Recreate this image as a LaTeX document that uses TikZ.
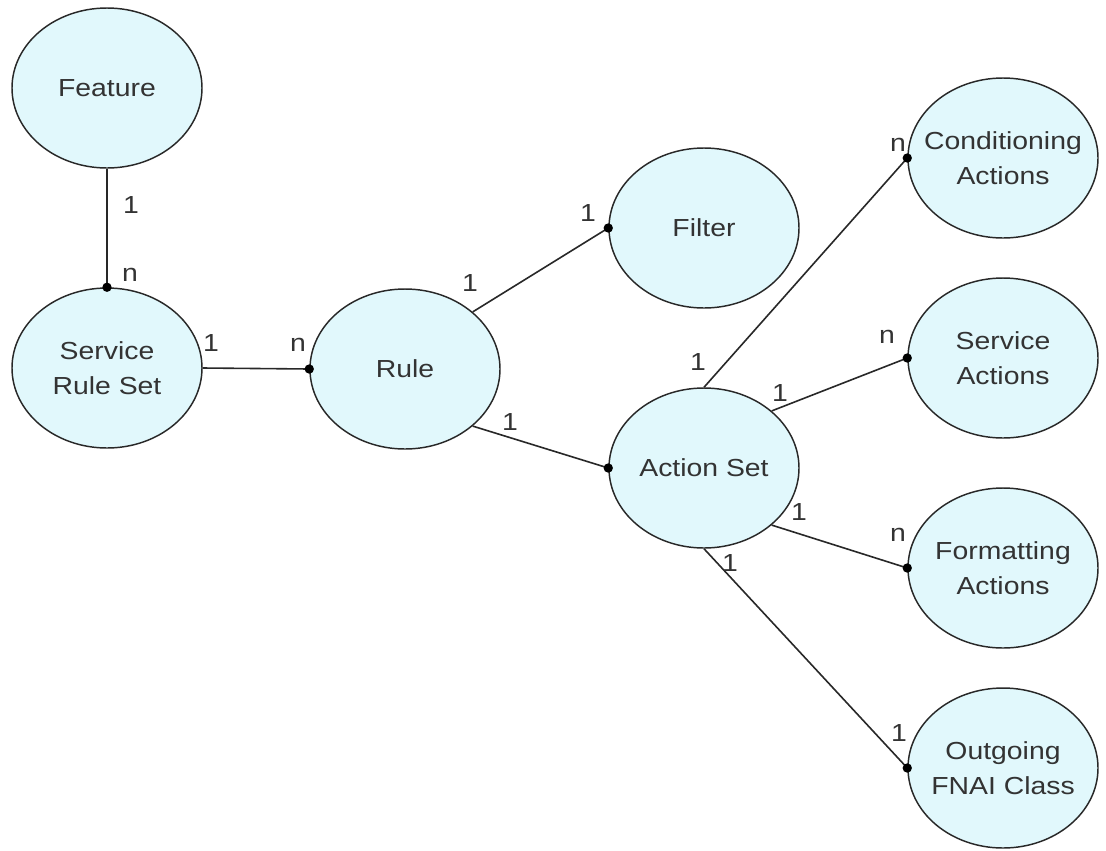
\documentclass[tikz,border=0pt]{standalone}
\usepackage{fontspec}
\setmainfont{Liberation Sans}[FakeStretch=1.15]
\usetikzlibrary{shapes.geometric}
\definecolor{entfill}{RGB}{225,248,252}
\definecolor{inkline}{RGB}{40,40,40}
\begin{document}
\begin{tikzpicture}[x=0.75pt,y=-0.75pt,
  entity/.style={ellipse, draw=inkline, line width=1.1pt, fill=entfill,
    minimum width=142.5pt, minimum height=120pt, inner sep=0pt},
  txt/.style={align=center, font=\fontsize{18.5}{26.25}\selectfont, text=black!80},
  card/.style={font=\fontsize{18.5}{22}\selectfont, text=black!80, inner sep=0pt},
  conn/.style={draw=inkline, line width=1.2pt},
  dot/.style={fill=black}]
% page
\fill[white] (0,0) rectangle (1106,850);
\useasboundingbox (0,0) rectangle (1106,850);

% entities
\node[entity, label={[txt]center:Feature}] (feature) at (107,88) {};
\node[entity, label={[txt]center:Service\\Rule Set}] (srs) at (107,368) {};
\node[entity, label={[txt]center:Rule}] (rule) at (405,369) {};
\node[entity, label={[txt]center:Filter}] (filter) at (704,228) {};
\node[entity, label={[txt]center:Action Set}] (aset) at (704,468) {};
\node[entity, label={[txt]center:Conditioning\\Actions}] (cond) at (1003,158) {};
\node[entity, label={[txt]center:Service\\Actions}] (svc) at (1003,358) {};
\node[entity, label={[txt]center:Formatting\\Actions}] (fmt) at (1003,568) {};
\node[entity, label={[txt]center:Outgoing\\FNAI Class}] (out) at (1003,768) {};

% relationships
\draw[conn] (feature.south) -- (srs.north);
\draw[conn] (srs.east) -- (rule.west);
\draw[conn] (rule.north east) -- (filter.west);
\draw[conn] (rule.south east) -- (aset.west);
\draw[conn] (aset.north) -- (cond.west);
\draw[conn] (aset.north east) -- (svc.west);
\draw[conn] (aset.south east) -- (fmt.west);
\draw[conn] (aset.south) -- (out.west);

% many-side dots
\foreach \p in {srs.north, rule.west, filter.west, aset.west, cond.west,
                svc.west, fmt.west, out.west}
  \fill[dot] (\p) circle[radius=3.5pt];

% cardinalities
\node[card] (c1) at (131,205) {1};
\node[card] (c2) at (130,275) {n};
\node[card] (c3) at (211,343) {1};
\node[card] (c4) at (298,345) {n};
\node[card] (c5) at (470,283) {1};
\node[card] (c6) at (588,213) {1};
\node[card] (c7) at (510,422) {1};
\node[card] (c8) at (698,362) {1};
\node[card] (c9) at (898,145) {n};
\node[card] (c10) at (780,393) {1};
\node[card] (c11) at (887,337) {n};
\node[card] (c12) at (799,512) {1};
\node[card] (c13) at (898,535) {n};
\node[card] (c14) at (730,563) {1};
\node[card] (c15) at (899,733) {1};
\end{tikzpicture}
\end{document}
